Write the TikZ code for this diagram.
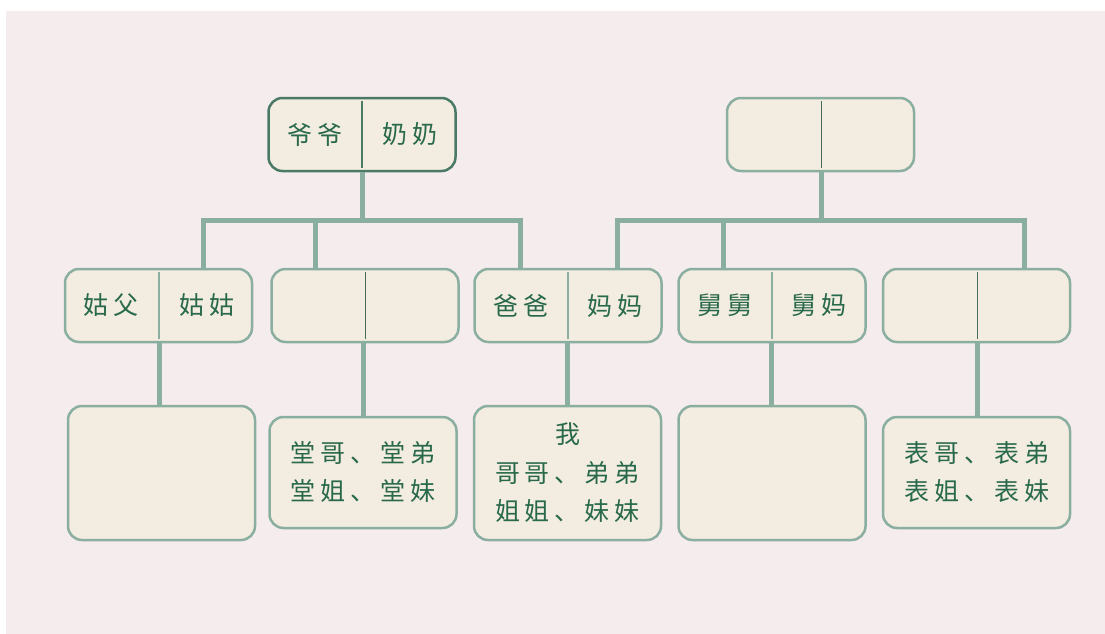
\documentclass[tikz,border=0pt]{standalone}
\usepackage{fontspec}
\setmainfont{Noto Sans CJK SC}
\newfontfamily\cjk{Noto Sans CJK SC}
\definecolor{bgpink}{RGB}{245,236,237}
\definecolor{boxfill}{RGB}{243,236,224}
\definecolor{lightgreen}{RGB}{138,175,160}
\definecolor{darkgreen}{RGB}{74,122,102}
\definecolor{txtgreen}{RGB}{40,105,75}
\newcommand\gp{\hspace{5pt}}
\tikzset{
  pairbox/.style={draw=lightgreen, line width=2.5pt, fill=boxfill, rounded corners=14pt,
    minimum width=187pt, minimum height=73pt, inner sep=0pt},
  topbox/.style={pairbox, draw=darkgreen},
  kidbox/.style={draw=lightgreen, line width=2.5pt, fill=boxfill, rounded corners=14pt,
    minimum width=187pt, inner sep=0pt},
  conn/.style={draw=lightgreen, line width=5pt, line join=miter},
  thickdiv/.style={draw=lightgreen, line width=2.5pt},
  thindiv/.style={draw=darkgreen!90!black, line width=1pt},
  topdiv/.style={draw=darkgreen, line width=2pt},
  lbl/.style={text=txtgreen, font=\cjk\fontsize{25}{38.5}\selectfont, inner sep=0pt, align=center},
}
\begin{document}
\begin{tikzpicture}[x=1pt,y=-1pt]
\useasboundingbox (0,0) rectangle (1105,634);
\fill[bgpink] (6,11) rectangle (1105,634);

% top row
\node[topbox] (gp1) at (362,134.5) {};
\node[pairbox] (gp2) at (820.5,134.5) {};
% second row
\node[pairbox] (p1) at (158.5,305.5) {};
\node[pairbox] (p2) at (365,305.5) {};
\node[pairbox] (p3) at (568,305.5) {};
\node[pairbox] (p4) at (772,305.5) {};
\node[pairbox] (p5) at (976.5,305.5) {};
% third row
\node[kidbox, minimum height=134pt] (c1) at (161.5,473) {};
\node[kidbox, minimum height=111pt] (c2) at (363,472.5) {};
\node[kidbox, minimum height=134pt] (c3) at (567.5,473) {};
\node[kidbox, minimum height=134pt] (c4) at (772,473) {};
\node[kidbox, minimum height=111pt] (c5) at (976.5,472.5) {};

% dividers
\draw[topdiv] (362,101) -- (362,168);
\draw[thindiv] (821,101) -- (821,168);
\draw[thickdiv] (159,272) -- (159,339);
\draw[thindiv] (365,272) -- (365,339);
\draw[thickdiv] (568,272) -- (568,339);
\draw[thickdiv] (772,272) -- (772,339);
\draw[thindiv] (977,272) -- (977,339);

% connectors
\coordinate (busL) at (362,220);
\coordinate (bL1) at (203,220);
\coordinate (bL2) at (315,220);
\coordinate (bL3) at (520,220);
\coordinate (busR) at (821,220);
\coordinate (bR1) at (617,220);
\coordinate (bR2) at (723,220);
\coordinate (bR3) at (1024,220);

\draw[conn] (gp1.south) -- (busL);
\draw[conn] (bL1 |- p1.north) -- (bL1) -- (bL3) -- (bL3 |- p3.north);
\draw[conn] (bL2) -- (bL2 |- p2.north);
\draw[conn] (busR |- gp2.south) -- (busR);
\draw[conn] (bR1 |- p3.north) -- (bR1) -- (bR3) -- (bR3 |- p5.north);
\draw[conn] (bR2) -- (bR2 |- p4.north);

\coordinate (d1) at (159,0);
\coordinate (d2) at (363,0);
\coordinate (d3) at (567,0);
\coordinate (d4) at (771,0);
\coordinate (d5) at (977,0);
\draw[conn] (d1 |- p1.south) -- (d1 |- c1.north);
\draw[conn] (d2 |- p2.south) -- (d2 |- c2.north);
\draw[conn] (d3 |- p3.south) -- (d3 |- c3.north);
\draw[conn] (d4 |- p4.south) -- (d4 |- c4.north);
\draw[conn] (d5 |- p5.south) -- (d5 |- c5.north);

% labels
\node[lbl] (t1) at (315,134.5) {爷\gp 爷};
\node[lbl] (t2) at (410,134.5) {奶\gp 奶};
\node[lbl] (t3) at (111,305.5) {姑\gp 父};
\node[lbl] (t4) at (206.5,305.5) {姑\gp 姑};
\node[lbl] (t5) at (521,305.5) {爸\gp 爸};
\node[lbl] (t6) at (615,305.5) {妈\gp 妈};
\node[lbl] (t7) at (725,305.5) {舅\gp 舅};
\node[lbl] (t8) at (819,305.5) {舅\gp 妈};
\node[lbl] (t9) at (363,472) {堂\gp 哥\gp 、\gp 堂\gp 弟\\堂\gp 姐\gp 、\gp 堂\gp 妹};
\node[lbl] (t10) at (567.5,473) {我\\哥\gp 哥\gp 、\gp 弟\gp 弟\\姐\gp 姐\gp 、\gp 妹\gp 妹};
\node[lbl] (t11) at (976.5,472) {表\gp 哥\gp 、\gp 表\gp 弟\\表\gp 姐\gp 、\gp 表\gp 妹};
\end{tikzpicture}
\end{document}
